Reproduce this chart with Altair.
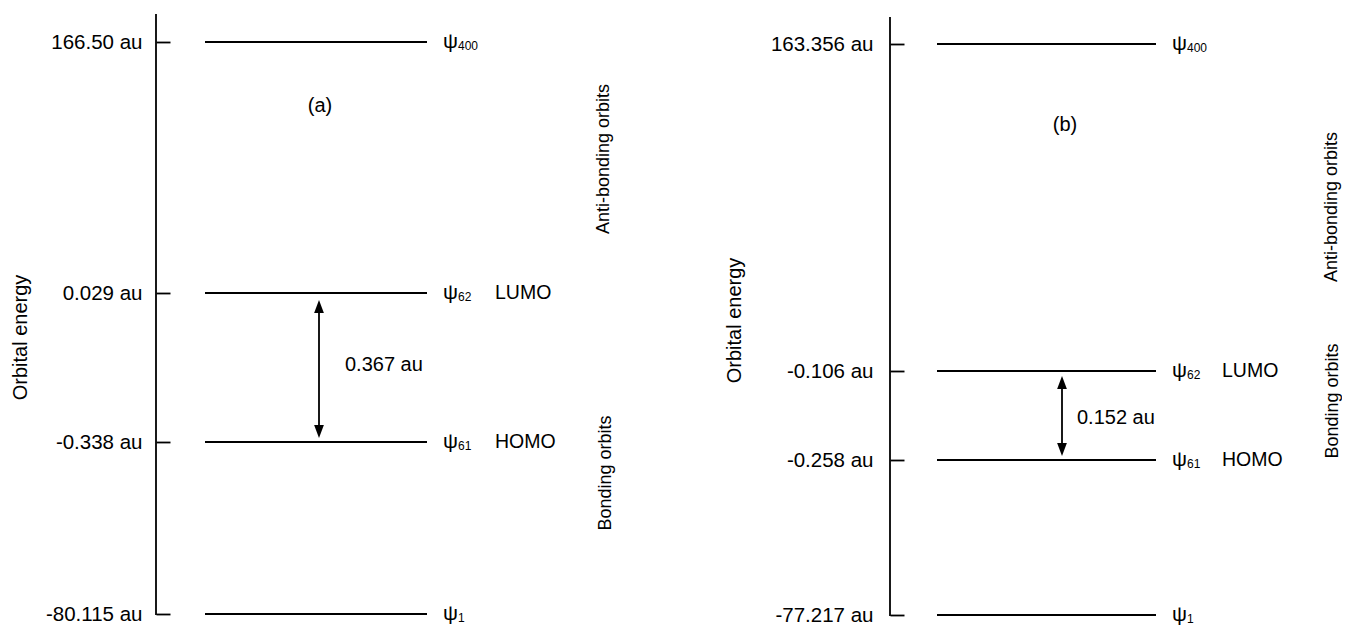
import json
import altair as alt
import pandas as pd

# ---------------- data ----------------
ORBITAL = ["400", "62", "61", "1"]
ROLE = ["", "LUMO", "HOMO", ""]

A_ENERGY = [166.50, 0.029, -0.338, -80.115]
A_LABELS = ["166.50 au", "0.029 au", "-0.338 au", "-80.115 au"]
A_GAP = "0.367 au"

B_ENERGY = [163.356, -0.106, -0.258, -77.217]
B_LABELS = ["163.356 au", "-0.106 au", "-0.258 au", "-77.217 au"]
B_GAP = "0.152 au"

PANEL_TAGS = ["(a)", "(b)"]
REGIONS = ["Anti-bonding orbits", "Bonding orbits"]
Y_TITLE = "Orbital energy"

# ---------------- style / layout ----------------
FONT = "Liberation Sans"
INK = "#000000"
UP = "M0,-1L0.75,1L-0.75,1Z"
DOWN = "M0,1L0.75,-1L-0.75,-1Z"


def panel(energy, labels, gap, tag, lay):
    df = pd.DataFrame({"energy": energy, "orbital": ORBITAL, "role": ROLE})
    dom = sorted(energy)
    rng = [lay["ypix"][energy.index(v)] for v in dom]
    label_expr = f"{json.dumps(labels)}[indexof({json.dumps(energy)}, datum.value)]"
    axis = alt.Axis(
        values=energy, labelExpr=label_expr, title=Y_TITLE,
        domain=False, grid=False, offset=-28, tickSize=14, tickWidth=1.8,
        tickColor=INK, labelFont=FONT, labelFontSize=20.5, labelColor=INK,
        labelPadding=lay["lpad"], labelOverlap=False,
        titleFont=FONT, titleFontSize=20, titleFontWeight="normal",
        titleColor=INK, titleAngle=270, titleBaseline="middle",
        titleAlign="center", titleX=lay["titleX"], titleY=lay["titleY"],
    )
    scale = alt.Scale(domain=dom, range=rng, nice=False, zero=False)
    y = alt.Y("energy:Q", scale=scale, axis=axis)

    one = pd.DataFrame({"energy": [energy[0]]})
    spine = alt.Chart(one).mark_rule(color=INK, strokeWidth=1.8).encode(
        x=alt.value(14), y=alt.value(lay["spine"][0]), y2=alt.value(lay["spine"][1]))

    base = alt.Chart(df)
    levels = base.mark_rule(color=INK, strokeWidth=1.8).encode(
        x=alt.value(lay["x0"]), x2=alt.value(lay["x1"]), y=y)
    psi = base.mark_text(text="ψ", align="left", baseline="middle", font=FONT,
                         fontSize=21, color=INK).encode(x=alt.value(lay["psi"]), y=y)
    sub = base.mark_text(align="left", baseline="middle", font=FONT, fontSize=12,
                         dx=15, dy=4, color=INK).encode(x=alt.value(lay["psi"]), y=y, text="orbital:N")
    role = base.mark_text(align="left", baseline="middle", font=FONT, fontSize=19.5,
                          color=INK).encode(x=alt.value(lay["role"]), y=y, text="role:N")

    gap_df = pd.DataFrame({"energy": [energy[1]], "energy2": [energy[2]], "txt": [gap]})
    low_df = pd.DataFrame({"energy": [energy[2]]})
    shaft = alt.Chart(gap_df).mark_rule(color=INK, strokeWidth=1.8, yOffset=12, y2Offset=-9).encode(
        x=alt.value(lay["arrow"]), y=y, y2="energy2:Q")
    head_up = alt.Chart(gap_df).mark_point(shape=UP, filled=True, size=169, color=INK, opacity=1,
                                           yOffset=lay["up"]).encode(x=alt.value(lay["arrow"]), y=y)
    head_dn = alt.Chart(low_df).mark_point(shape=DOWN, filled=True, size=169, color=INK, opacity=1,
                                           yOffset=lay["dn"]).encode(x=alt.value(lay["arrow"]), y=y)
    gap_txt = alt.Chart(gap_df).mark_text(align="left", baseline="middle", font=FONT, fontSize=20,
                                          color=INK).encode(
        x=alt.value(lay["gapx"]), y=alt.value(lay["gapy"]), text="txt:N")

    tag_df = pd.DataFrame({"txt": [tag]})
    tag_txt = alt.Chart(tag_df).mark_text(align="center", baseline="middle", font=FONT, fontSize=20,
                                          color=INK).encode(
        x=alt.value(lay["tag"][0]), y=alt.value(lay["tag"][1]), text="txt:N")

    reg_df = pd.DataFrame({"txt": REGIONS})
    reg_layers = []
    for i, txt in enumerate(REGIONS):
        reg_layers.append(
            alt.Chart(reg_df).transform_filter(alt.datum.txt == txt).mark_text(
                angle=270, align="center", baseline="middle", font=FONT, fontSize=18, color=INK
            ).encode(x=alt.value(lay["reg"][i][0]), y=alt.value(lay["reg"][i][1]), text="txt:N"))

    return alt.layer(levels, spine, psi, sub, role, shaft, head_up, head_dn, gap_txt, tag_txt,
                     *reg_layers).properties(width=lay["w"], height=615)


LAY_A = dict(ypix=[34, 285, 434, 606], spine=(6, 607), lpad=14, titleX=-150, titleY=329,
             x0=63, x1=285, psi=301, role=353, arrow=177, up=13.5, dn=-10.5,
             gapx=203, gapy=357, tag=(178, 98), reg=[(462, 151), (464, 465)], w=480)
LAY_B = dict(ypix=[36, 363, 452, 607], spine=(9, 608), lpad=17, titleX=-170, titleY=312,
             x0=61, x1=280, psi=296, role=346, arrow=186, up=11.5, dn=-10.5,
             gapx=201, gapy=410, tag=(189, 117), reg=[(456, 199), (457, 393)], w=460)

chart = alt.hconcat(
    panel(A_ENERGY, A_LABELS, A_GAP, PANEL_TAGS[0], LAY_A),
    panel(B_ENERGY, B_LABELS, B_GAP, PANEL_TAGS[1], LAY_B),
    spacing=102,
).properties(
    padding={"left": 2, "top": 0, "right": 0, "bottom": 0},
    background="white",
).configure_view(stroke=None)

chart.save("out.html", embed_options={"renderer": "svg", "actions": False})
